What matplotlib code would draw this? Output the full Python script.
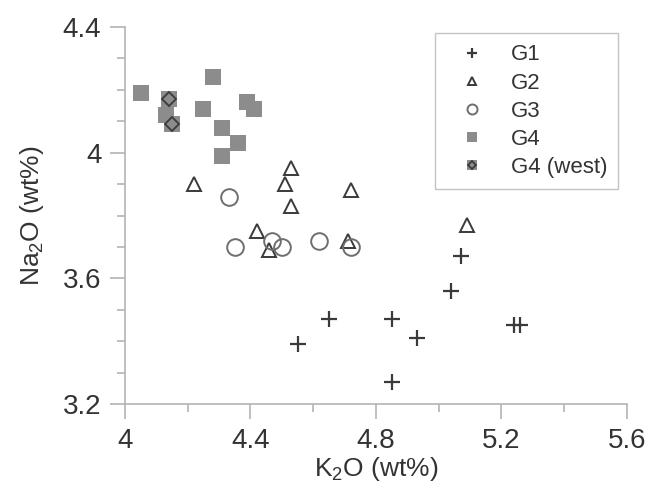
import matplotlib
matplotlib.use("Agg")
import matplotlib.pyplot as plt
from matplotlib.ticker import MultipleLocator

plt.rcParams['font.family'] = ['Liberation Sans', 'DejaVu Sans']
plt.rcParams['mathtext.fontset'] = 'custom'
plt.rcParams['mathtext.rm'] = 'Liberation Sans'

# K2O / Na2O (wt%) per group
g1_k = [4.85, 5.07, 5.04, 4.65, 4.93, 4.55, 4.85, 5.24, 5.26]
g1_na = [3.47, 3.67, 3.56, 3.47, 3.41, 3.39, 3.27, 3.45, 3.45]

g2_k = [4.22, 4.53, 4.51, 4.53, 4.72, 4.42, 4.46, 4.71, 5.09]
g2_na = [3.90, 3.95, 3.90, 3.83, 3.88, 3.75, 3.69, 3.72, 3.77]

g3_k = [4.33, 4.35, 4.47, 4.50, 4.62, 4.72]
g3_na = [3.86, 3.70, 3.72, 3.70, 3.72, 3.70]

g4_k = [4.05, 4.13, 4.25, 4.28, 4.39, 4.41, 4.31, 4.36, 4.31]
g4_na = [4.19, 4.12, 4.14, 4.24, 4.16, 4.14, 4.08, 4.03, 3.99]

g4w_k = [4.14, 4.15]
g4w_na = [4.17, 4.09]

x_ticks = [4.0, 4.4, 4.8, 5.2, 5.6]
x_labels = ['4', '4.4', '4.8', '5.2', '5.6']
y_ticks = [3.2, 3.6, 4.0, 4.4]
y_labels = ['3.2', '3.6', '4', '4.4']

dark = '#3a3a3a'
mid = '#6e6e6e'
fill = '#8c8c8c'
axis_col = '#b4b4b4'

fig = plt.figure(figsize=(6.51, 4.96), dpi=100)
ax = fig.add_axes([0.192, 0.1855, 0.771, 0.76])

h1, = ax.plot(g1_k, g1_na, ls='none', marker='+', ms=12, mew=1.6, color=dark)
h2, = ax.plot(g2_k, g2_na, ls='none', marker='^', ms=10, mew=1.4,
              mfc='none', mec=dark)
h3, = ax.plot(g3_k, g3_na, ls='none', marker='o', ms=12, mew=1.4,
              mfc='none', mec=mid)
h4, = ax.plot(g4_k, g4_na, ls='none', marker='s', ms=11, mew=0,
              color=fill)
h5a, = ax.plot(g4w_k, g4w_na, ls='none', marker='s', ms=11, mew=0,
               color=fill)
h5b, = ax.plot(g4w_k, g4w_na, ls='none', marker='D', ms=7, mew=1.3,
               mfc='none', mec=dark)

ax.set_xlim(4.0, 5.6)
ax.set_ylim(3.2, 4.4)
ax.set_xticks(x_ticks)
ax.set_xticklabels(x_labels)
ax.set_yticks(y_ticks)
ax.set_yticklabels(y_labels)
ax.xaxis.set_minor_locator(MultipleLocator(0.2))
ax.yaxis.set_minor_locator(MultipleLocator(0.1))

for side in ['top', 'right']:
    ax.spines[side].set_visible(False)
for side in ['left', 'bottom']:
    ax.spines[side].set_color(axis_col)
    ax.spines[side].set_linewidth(1.2)

ax.tick_params(which='major', direction='out', length=11, width=1.2,
               color=axis_col, labelsize=20, labelcolor='#333333', pad=6)
ax.tick_params(which='minor', direction='out', length=6, width=1.2,
               color=axis_col)

ax.set_xlabel('K$_\\mathregular{2}$O (wt%)', fontsize=19, color='#333333',
              labelpad=1)
ax.set_ylabel('Na$_\\mathregular{2}$O (wt%)', fontsize=19, color='#333333',
              labelpad=12)

leg = ax.legend([h1, h2, h3, h4, (h5a, h5b)],
                ['G1', 'G2', 'G3', 'G4', 'G4 (west)'],
                loc='upper right', bbox_to_anchor=(0.992, 0.995),
                fontsize=16, markerscale=0.6, frameon=True, fancybox=False,
                handlelength=2.3, handletextpad=0.6, labelspacing=0.32,
                borderpad=0.5, borderaxespad=0.2)
leg.get_frame().set_edgecolor(axis_col)
leg.get_frame().set_linewidth(1.0)
for t in leg.get_texts():
    t.set_color('#333333')

fig.savefig('out.png', dpi=100)
